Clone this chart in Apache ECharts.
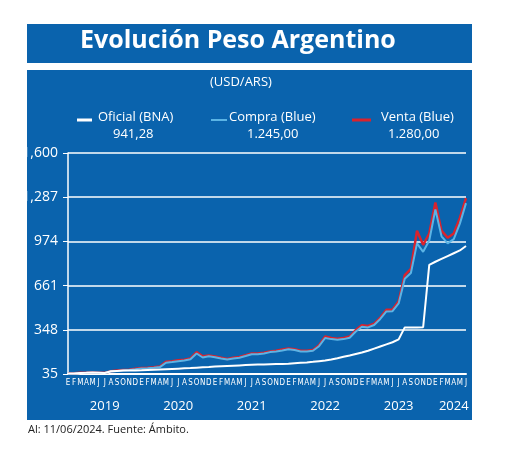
<!DOCTYPE html>
<html><head><meta charset="utf-8">
<script src="https://cdn.jsdelivr.net/npm/echarts@6/dist/echarts.min.js"></script>
<style>html,body{margin:0;padding:0;background:#fff}#c{width:520px;height:453px}</style>
</head><body><div id="c"></div>
<script>
var monthLetters = ['E','F','M','A','M','J','J','A','S','O','N','D'];
var years = ['2019','2020','2021','2022','2023','2024'];
var yTicks = [35, 348, 661, 974, 1287, 1600];
var oficial = [38,39,42,43,45,44,42,55,57,59,60,60,
  61,63,65,67,69,71,73,75,77,80,83,85,
  88,90,92,94,96,98,100,102,103,104,105,106,
  108,111,114,117,121,126,131,138,147,157,166,177,
  187,200,215,230,245,260,280,365,365,365,366,808,
  830,850,870,890,910,941.28];
var venta = [38,40,43,44,45,44,43,55,59,63,66,72,
  78,80,83,88,122,126,132,136,145,190,160,166,
  159,150,141,150,155,168,180,180,185,195,200,208,
  215,210,200,200,205,239,300,290,285,290,300,346,
  380,375,392,435,490,492,550,735,780,1050,950,1030,
  1250,1050,1000,1030,1140,1280];
var compra = [37,39,42,43,44,43,42,53,56,60,63,68,
  74,76,79,84,115,120,126,130,140,180,152,160,
  154,145,137,145,150,162,175,175,180,190,195,202,
  210,205,195,195,200,232,290,282,278,282,292,336,
  370,365,382,425,478,480,535,710,750,960,900,980,
  1200,1010,960,990,1100,1245];
var cats = [];
years.forEach(function(y,i){ var n = (i===5)?6:12; for(var m=0;m<n;m++) cats.push(monthLetters[m]); });
var yearPos = {6:'2019',18:'2020',30:'2021',42:'2022',54:'2023',63:'2024'};

var blue = '#0a63ad';
var chart = echarts.init(document.getElementById('c'));
chart.setOption({
  animation:false,
  backgroundColor:'#fff',
  graphic:[
    {type:'rect',z:-10,shape:{x:27,y:24,width:445,height:39},style:{fill:blue}},
    {type:'rect',z:-10,shape:{x:27,y:70,width:445,height:350},style:{fill:blue}},
    {type:'text',left:'center',top:28,style:{text:'Evolución Peso Argentino',fill:'#fff',font:'bold 25px "Open Sans", sans-serif'}, left:80},
    {type:'text',top:76,left:210,style:{text:'(USD/ARS)',fill:'#fff',font:'13px "Open Sans", sans-serif'}},
    {type:'line',shape:{x1:77,y1:120,x2:92,y2:120},style:{stroke:'#fff',lineWidth:3}},
    {type:'text',left:98,top:111,style:{text:'Oficial (BNA)',fill:'#fff',font:'13px "Open Sans", sans-serif'}},
    {type:'text',left:113,top:128,style:{text:'941,28',fill:'#fff',font:'13px "Open Sans", sans-serif'}},
    {type:'line',shape:{x1:211,y1:120,x2:227,y2:120},style:{stroke:'#5bb4e5',lineWidth:2}},
    {type:'text',left:229,top:111,style:{text:'Compra (Blue)',fill:'#fff',font:'13px "Open Sans", sans-serif'}},
    {type:'text',left:247,top:128,style:{text:'1.245,00',fill:'#fff',font:'13px "Open Sans", sans-serif'}},
    {type:'line',shape:{x1:352,y1:120,x2:371,y2:120},style:{stroke:'#d9232d',lineWidth:3}},
    {type:'text',left:381,top:111,style:{text:'Venta (Blue)',fill:'#fff',font:'13px "Open Sans", sans-serif'}},
    {type:'text',left:388,top:128,style:{text:'1.280,00',fill:'#fff',font:'13px "Open Sans", sans-serif'}},
    {type:'text',left:28,top:424,style:{text:'Al: 11/06/2024. Fuente: Ámbito.',fill:'#222',font:'11px "Open Sans", sans-serif'}}
  ],
  grid:{left:68,right:54,top:153,bottom:79},
  xAxis:[
    {type:'category',data:cats,boundaryGap:false,
     axisLine:{lineStyle:{color:'#fff',width:2}},axisTick:{show:false},
     axisLabel:{color:'#fff',interval:0,fontSize:8,fontFamily:'"Liberation Sans Narrow", "DejaVu Sans Condensed", sans-serif',margin:5}},
    {type:'value',position:'bottom',min:0,max:65,interval:1,offset:18,
     axisLine:{show:false},axisTick:{show:false},splitLine:{show:false},
     axisLabel:{color:'#fff',fontSize:13,fontFamily:'"Open Sans", sans-serif',
       formatter:function(v){return yearPos[v]||'';},showMinLabel:true,showMaxLabel:true}}
  ],
  yAxis:{type:'value',min:35,max:1600,interval:313,
    axisLine:{show:true,lineStyle:{color:'#fff',width:1.5}},
    axisTick:{show:true,length:5,lineStyle:{color:'#fff'}},
    splitLine:{lineStyle:{color:'#fff',width:1.5}},
    axisLabel:{color:'#fff',fontSize:14,fontFamily:'"Open Sans", sans-serif',margin:10,align:'right'}},
  series:[
    {name:'Venta (Blue)',type:'line',data:venta,symbol:'none',lineStyle:{color:'#d9232d',width:2.5}},
    {name:'Compra (Blue)',type:'line',data:compra,symbol:'none',lineStyle:{color:'#5bb4e5',width:2}},
    {name:'Oficial (BNA)',type:'line',data:oficial,symbol:'none',lineStyle:{color:'#fff',width:2}}
  ]
});
</script></body></html>
